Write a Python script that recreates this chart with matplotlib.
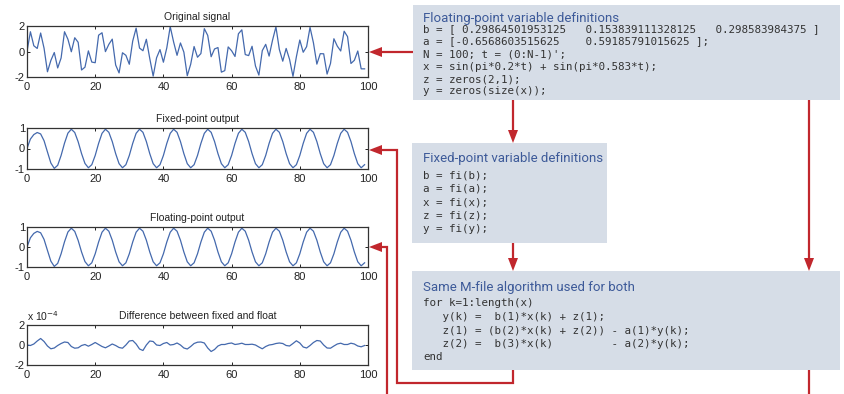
import numpy as np
import matplotlib
matplotlib.use('Agg')
import matplotlib.pyplot as plt
from matplotlib.patches import Rectangle, Polygon

# ---- data ----
t = np.arange(100)

original_signal = [
    0.00, 1.55, 0.45, 0.24, 1.45, 0.26, -1.59, -0.70, -0.08, -1.29,
    -0.51, 1.55, 0.96, -0.02, 1.08, 0.72, -1.45, -1.23, 0.05, -0.83,
    -0.88, 1.28, 1.47, -0.01, 0.56, 0.97, -1.06, -1.68, -0.10, -0.30,
    -1.00, 0.82, 1.83, 0.27, 0.06, 0.96, -0.55, -1.93, -0.49, 0.15,
    -0.84, 0.29, 1.95, 0.74, -0.30, 0.67, -0.05, -1.90, -1.00, 0.39,
    -0.45, -0.16, 1.79, 1.26, -0.41, 0.20, 0.31, -1.62, -1.50, 0.36,
    0.06, -0.39, 1.39, 1.70, -0.24, -0.32, 0.41, -1.14, -1.85, 0.07,
    0.56, -0.36, 0.88, 1.93, 0.16, -0.76, 0.24, -0.62, -1.95, -0.41,
    0.90, -0.06, 0.38, 1.89, 0.68, -0.99, -0.17, -0.18, -1.77, -0.94,
    1.00, 0.42, 0.04, 1.59, 1.17, -0.94, -0.69, 0.04, -1.36, -1.36,
]

float_out = [
    0.00, 0.46, 0.68, 0.78, 0.71, 0.38, -0.17, -0.71, -0.97, -0.82,
    -0.34, 0.26, 0.75, 0.94, 0.78, 0.33, -0.25, -0.73, -0.94, -0.79,
    -0.34, 0.25, 0.74, 0.94, 0.79, 0.34, -0.25, -0.74, -0.94, -0.79,
    -0.34, 0.25, 0.74, 0.94, 0.79, 0.34, -0.25, -0.74, -0.94, -0.79,
    -0.34, 0.25, 0.74, 0.94, 0.79, 0.34, -0.25, -0.74, -0.94, -0.79,
    -0.34, 0.25, 0.74, 0.94, 0.79, 0.34, -0.25, -0.74, -0.94, -0.79,
    -0.34, 0.25, 0.74, 0.94, 0.79, 0.34, -0.25, -0.74, -0.94, -0.79,
    -0.34, 0.25, 0.74, 0.94, 0.79, 0.34, -0.25, -0.74, -0.94, -0.79,
    -0.34, 0.25, 0.74, 0.94, 0.79, 0.34, -0.25, -0.74, -0.94, -0.79,
    -0.34, 0.25, 0.74, 0.94, 0.79, 0.34, -0.25, -0.74, -0.94, -0.79,
]
# fixed-point result is identical at this scale
fixed_out = list(float_out)

# difference, in units of 1e-4
diff_e4 = [
    0.00, -0.05, 0.10, 0.40, 0.65, 0.35, -0.10, -0.38, -0.30, -0.05,
    0.15, 0.30, 0.25, -0.15, -0.32, -0.28, -0.05, 0.05, -0.12, 0.05,
    0.25, 0.05, -0.15, -0.28, -0.10, 0.10, -0.05, -0.25, -0.32, 0.00,
    0.40, 0.45, 0.10, -0.40, -0.55, 0.00, 0.40, 0.35, 0.00, -0.05,
    0.15, 0.25, 0.00, 0.05, 0.20, 0.00, -0.30, -0.40, -0.15, 0.15,
    0.28, 0.30, 0.20, -0.30, -0.65, -0.45, -0.10, 0.05, 0.05, 0.15,
    0.20, 0.05, 0.10, 0.18, 0.05, 0.05, 0.08, 0.00, -0.20, -0.38,
    -0.15, 0.00, 0.05, 0.15, 0.20, 0.15, -0.05, -0.10, 0.15, 0.42,
    0.20, -0.20, -0.30, -0.05, 0.25, 0.45, 0.40, 0.00, -0.30, -0.32,
    -0.10, 0.10, 0.18, 0.05, 0.05, 0.18, 0.10, -0.10, -0.18, -0.05,
]

x_ticks = [0, 20, 40, 60, 80, 100]
panel_titles = ['Original signal', 'Fixed-point output',
                'Floating-point output', 'Difference between fixed and float']

box1_title = 'Floating-point variable definitions'
box1_code = [
    "b = [ 0.29864501953125   0.153839111328125   0.298583984375 ]",
    "a = [-0.6568603515625    0.59185791015625 ];",
    "N = 100; t = (0:N-1)';",
    "x = sin(pi*0.2*t) + sin(pi*0.583*t);",
    "z = zeros(2,1);",
    "y = zeros(size(x));",
]
box2_title = 'Fixed-point variable definitions'
box2_code = ["b = fi(b);", "a = fi(a);", "x = fi(x);", "z = fi(z);", "y = fi(y);"]
box3_title = 'Same M-file algorithm used for both'
box3_code = [
    "for k=1:length(x)",
    "   y(k) =  b(1)*x(k) + z(1);",
    "   z(1) = (b(2)*x(k) + z(2)) - a(1)*y(k);",
    "   z(2) =  b(3)*x(k)         - a(2)*y(k);",
    "end",
]

# ---- style ----
W, H = 844, 394
BLUE = '#4469ad'
RED = '#c1272d'
BOX = '#d6dde7'
TITLE_BLUE = '#3d5a99'
CODE = '#333333'
SANS = ['Liberation Sans', 'DejaVu Sans']
NARROW = ['Roboto', 'DejaVu Sans']
MONO = ['DejaVu Sans Mono']

fig = plt.figure(figsize=(W / 100, H / 100), dpi=100)

# overlay in pixel coordinates for the diagram part
ov = fig.add_axes([0, 0, 1, 1])
ov.set_xlim(0, W)
ov.set_ylim(H, 0)
ov.axis('off')


def draw_box(x0, y0, x1, y1, title, code, title_y, line_ys):
    ov.add_patch(Rectangle((x0, y0), x1 - x0, y1 - y0, facecolor=BOX, edgecolor='none'))
    ov.text(423, title_y, title, family=NARROW, fontsize=9.5, color=TITLE_BLUE, va='baseline')
    for line, ly in zip(code, line_ys):
        ov.text(423, ly, line, family=MONO, fontsize=7.8, color=CODE, va='center')


draw_box(413, 5, 840, 100, box1_title, box1_code, 21.5, [29, 41.5, 54, 66.5, 79, 91])
draw_box(412, 143, 607, 243, box2_title, box2_code, 162, [175, 188.5, 202, 215.5, 229])
draw_box(412, 271, 840, 370, box3_title, box3_code, 291, [303, 317, 330.5, 344, 357.5])


def red_line(xs, ys):
    ov.plot(xs, ys, color=RED, lw=1.6, solid_capstyle='butt', solid_joinstyle='miter')


def head(tx, ty, d):
    L, hw = 13, 5
    if d == 'left':
        pts = [(tx, ty), (tx + L, ty - hw), (tx + L, ty + hw)]
    else:
        pts = [(tx, ty), (tx - hw, ty - L), (tx + hw, ty - L)]
    ov.add_patch(Polygon(pts, closed=True, facecolor=RED, edgecolor='none'))


red_line([413, 380], [52, 52]); head(369, 52, 'left')
red_line([513, 513], [100, 132]); head(513, 143, 'down')
red_line([809, 809], [100, 260]); head(809, 271, 'down')
red_line([513, 513], [243, 260]); head(513, 271, 'down')
red_line([513, 513, 397, 397, 380], [370, 383, 383, 150, 150]); head(369, 150, 'left')
red_line([809, 809], [370, 394])
red_line([387, 387, 380], [394, 247, 247]); head(369, 247, 'left')


# ---- signal panels ----
def panel(top, bottom, data, ylim, yticks, title):
    ax = fig.add_axes([27 / W, 1 - bottom / H, (368 - 27) / W, (bottom - top) / H])
    ax.plot(t, data, color=BLUE, lw=0.9)
    ax.set_xlim(0, 100)
    ax.set_ylim(*ylim)
    ax.set_xticks(x_ticks)
    ax.set_yticks(yticks)
    ax.set_yticklabels([str(v) for v in yticks])
    ax.tick_params(direction='in', top=True, right=True, length=2.5, width=0.7,
                   labelsize=8, colors='#222222')
    ax.tick_params(axis='x', pad=3.5)
    ax.tick_params(axis='y', pad=1.5)
    for lab in ax.get_xticklabels() + ax.get_yticklabels():
        lab.set_family(SANS)
    for s in ax.spines.values():
        s.set_color('#333333')
        s.set_linewidth(0.9)
    ax.set_title(title, fontsize=7.5, family=SANS, color='#222222', pad=4)
    return ax


panel(26, 77, original_signal, (-2, 2), [-2, 0, 2], panel_titles[0])
panel(128, 169, fixed_out, (-1, 1), [-1, 0, 1], panel_titles[1])
panel(227, 267, float_out, (-1, 1), [-1, 0, 1], panel_titles[2])
ax4 = panel(325, 365, diff_e4, (-2, 2), [-2, 0, 2], panel_titles[3])
ax4.text(0.0, 1.04, r'x 10$^{-4}$', transform=ax4.transAxes, fontsize=7.5,
         family=SANS, color='#222222', va='bottom', ha='left')

fig.savefig('out.png', dpi=100)
